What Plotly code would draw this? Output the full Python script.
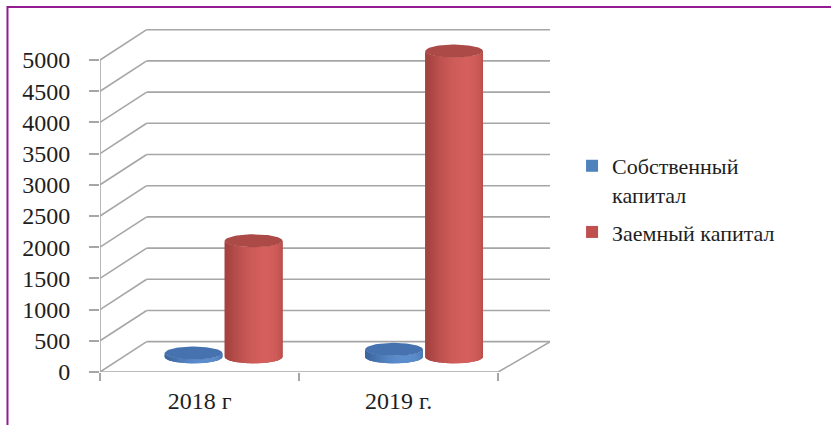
import numpy as np
import plotly.graph_objects as go

# ---------------- data ----------------
categories = ["2018 г", "2019 г."]
own_capital = [60, 120]          # Собственный капитал
borrowed_capital = [1860, 4900]  # Заемный капитал
series_names = ["Собственный<br>капитал", "Заемный капитал"]
y_ticks = [0, 500, 1000, 1500, 2000, 2500, 3000, 3500, 4000, 4500, 5000]

# ---------------- styling / geometry ----------------
FONT = "'Liberation Serif', 'Times New Roman', Times, 'DejaVu Serif', serif"
GRID = "#A6A6A6"
DX0, DX1 = 0.2345, 0.2613   # depth shift (x units) at left / right end
DY = 486                    # depth shift (value units)
X_MAX = 2.26
Y_MAX = 5513
RX = 0.145                  # cylinder half-width (x units)
RY = 104                    # ellipse half-height (value units)

def proj(u, v, d):
    dx = DX0 + (DX1 - DX0) * u / 2.0
    return u + d * dx, v + d * DY

fig = go.Figure()

def line(xs, ys, color=GRID, width=1.6):
    fig.add_trace(go.Scatter(x=xs, y=ys, mode="lines",
                             line=dict(color=color, width=width),
                             showlegend=False, hoverinfo="skip"))

# back wall + left wall gridlines
for v in y_ticks:
    a = proj(0, v, 1); b = proj(2, v, 1)
    line([a[0], X_MAX], [a[1], b[1]])
    f = proj(0, v, 0)
    line([f[0], a[0]], [f[1], a[1]])
# floor
p00 = proj(0, 0, 0); p20 = proj(2, 0, 0); p21 = proj(2, 0, 1)
line([p00[0], p20[0], p21[0]], [p00[1], p20[1], p21[1]])
# front value axis
line([0, 0], [0, 5000])

# ---------------- cylinders ----------------
def mix(c1, c2, t):
    return "rgb(%d,%d,%d)" % tuple(int(round(a + (b - a) * t)) for a, b in zip(c1, c2))

def poly(xs, ys, col):
    fig.add_trace(go.Scatter(
        x=list(xs), y=list(ys), mode="lines", fill="toself", fillcolor=col,
        line=dict(color=col, width=0), showlegend=False, hoverinfo="skip"))

def cylinder(u_front, value, dark, light, cap):
    cx, base = proj(u_front, 0, 0.5)
    top = base + value
    ph = np.linspace(np.pi, 0, 60)
    xs = cx + RX * np.cos(ph)
    poly(list(xs) + list(xs[::-1]),
         list(base - RY * np.sin(ph)) + list((top - RY * np.sin(ph))[::-1]),
         mix(dark, light, 0.3))
    n = 40
    phis = np.linspace(np.pi, 0, n + 1)
    phiL = 1.15
    step = phis[0] - phis[1]
    for i in range(n):
        a0 = phis[i]
        a1 = max(0.0, phis[i + 1] - 0.6 * step)
        ph = np.linspace(a0, a1, 4)
        xs = cx + RX * np.cos(ph)
        yb = base - RY * np.sin(ph)
        yt = top - RY * np.sin(ph)
        pm = 0.5 * (phis[i] + phis[i + 1])
        t = 0.15 + 0.85 * max(0.0, np.cos(pm - phiL)) ** 1.4
        poly(list(xs) + list(xs[::-1]), list(yb) + list(yt[::-1]), mix(dark, light, t))
    th = np.linspace(0, 2 * np.pi, 90)
    poly(cx + RX * np.cos(th), top + RY * np.sin(th), cap)

BLUE_DARK, BLUE_LIGHT, BLUE_CAP = (55, 96, 150), (92, 142, 206), "#4673B0"
RED_DARK, RED_LIGHT, RED_CAP = (158, 62, 60), (212, 95, 92), "#AC4A47"

for c in range(len(categories)):
    cylinder(c + 0.35, own_capital[c], BLUE_DARK, BLUE_LIGHT, BLUE_CAP)
for c in range(len(categories)):
    cylinder(c + 0.65, borrowed_capital[c], RED_DARK, RED_LIGHT, RED_CAP)

# legend entries
for i, (name, col) in enumerate(zip(series_names, ["#4F81BD", "#C0504D"])):
    fig.add_trace(go.Scatter(x=[None], y=[None], mode="markers", name=name,
                             legendgroup="g%d" % i,
                             marker=dict(symbol="square", size=12, color=col)))

# purple frame (left and top edges)
fig.add_shape(type="path", xref="paper", yref="paper",
              path="M -0.2056,-0.2 L -0.2056,1.0612 L 1.7,1.0612",
              line=dict(color="#941C92", width=2))

fig.update_layout(
    width=831, height=425,
    margin=dict(l=100, r=281, t=28, b=53),
    paper_bgcolor="white", plot_bgcolor="white",
    font=dict(family=FONT, color="#1E1E1E"),
    xaxis=dict(range=[0, X_MAX], showgrid=False, zeroline=False, showline=False,
               tickmode="array", tickvals=[0.5, 1.5], ticktext=categories,
               ticks="", tickfont=dict(family=FONT, size=24, color="#1E1E1E"),
               ticklabelstandoff=12,
               minor=dict(tickmode="array", tickvals=[0, 1, 2], ticks="outside",
                          ticklen=8, tickcolor=GRID, tickwidth=1.6)),
    yaxis=dict(range=[0, Y_MAX], showgrid=False, zeroline=False, showline=False,
               tickmode="array", tickvals=y_ticks, ticks="outside", ticklen=10,
               tickcolor=GRID, tickwidth=1.6, ticklabelstandoff=14,
               tickfont=dict(family=FONT, size=24, color="#1E1E1E")),
    showlegend=True,
    legend=dict(x=1.049, y=0.66, xanchor="left", yanchor="top", valign="top",
                font=dict(family=FONT, size=22, color="#1E1E1E"),
                bgcolor="rgba(0,0,0,0)", tracegroupgap=6),
)

fig.write_html("out.html", config={"displayModeBar": False},
               post_script="document.body.style.margin='0px';")
